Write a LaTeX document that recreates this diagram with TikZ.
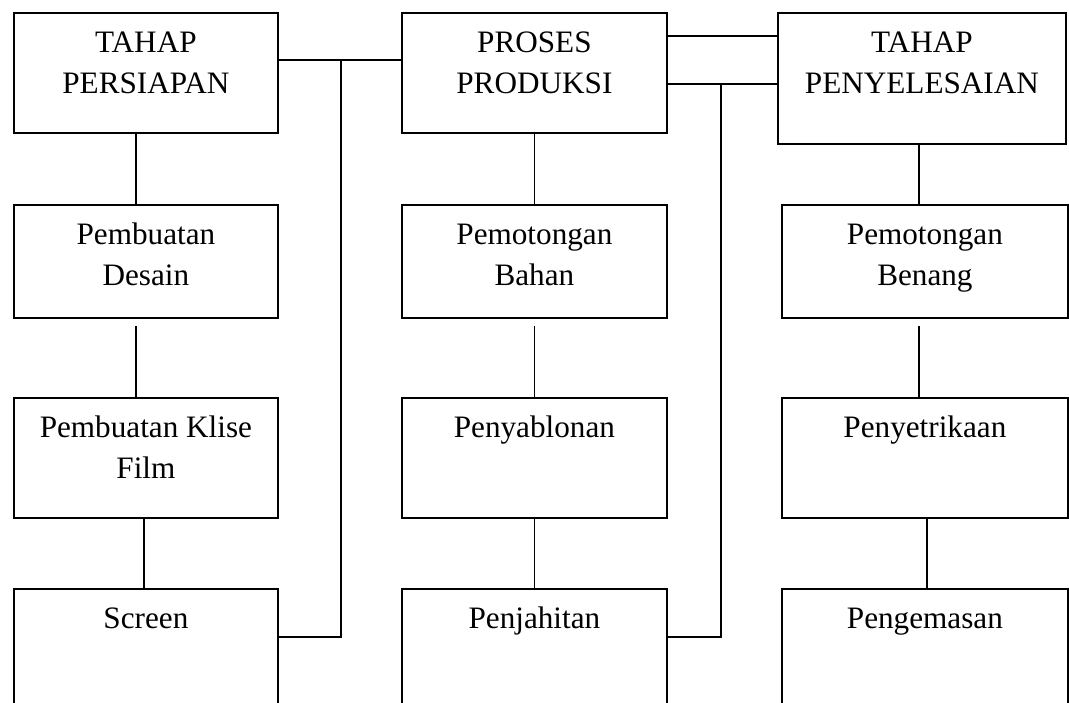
\documentclass[tikz,border=0pt]{standalone}
\usepackage{fontspec}
\setmainfont{Liberation Serif}
\newcommand{\isi}[3]{\parbox[c][#2][t]{#1}{\centering\vspace*{5.6pt}\strut #3\par}}
\tikzset{
  tahap/.style={draw, line width=0.9pt, inner sep=0pt, anchor=north west, font=\fontsize{15.6}{20.5}\selectfont},
  garis/.style={line width=0.9pt}
}
\begin{document}
\begin{tikzpicture}[x=0.5pt, y=-0.5pt]
	\useasboundingbox (0,0) rectangle (1069,702);
	\clip (0,0) rectangle (1069,702);

	\node[tahap] (persiapan) at (13,12) {\isi{132pt}{60pt}{TAHAP\\PERSIAPAN}};
	\node[tahap] (desain) at (13,204) {\isi{132pt}{56.5pt}{Pembuatan\\Desain}};
	\node[tahap] (klise) at (13,397) {\isi{132pt}{60pt}{Pembuatan Klise\\Film}};
	\node[tahap] (screen) at (13,588) {\isi{132pt}{65pt}{Screen}};

	\node[tahap] (proses) at (401,12) {\isi{132.5pt}{60pt}{PROSES\\PRODUKSI}};
	\node[tahap] (bahan) at (401,204) {\isi{132.5pt}{56.5pt}{Pemotongan\\Bahan}};
	\node[tahap] (sablon) at (401,397) {\isi{132.5pt}{60pt}{Penyablonan}};
	\node[tahap] (jahit) at (401,588) {\isi{132.5pt}{65pt}{Penjahitan}};

	\node[tahap] (selesai) at (777,12) {\isi{144pt}{65.5pt}{TAHAP\\PENYELESAIAN}};
	\node[tahap] (benang) at (781,204) {\isi{143pt}{56.5pt}{Pemotongan\\Benang}};
	\node[tahap] (setrika) at (781,397) {\isi{143pt}{60pt}{Penyetrikaan}};
	\node[tahap] (kemas) at (781,588) {\isi{143pt}{65pt}{Pengemasan}};

	\coordinate (s1) at (341,60);
	\coordinate (s2) at (341,637);
	\coordinate (p1) at (721,36);
	\coordinate (p2) at (721,84);
	\coordinate (p3) at (721,637);

	\draw[garis] ([xshift=-5pt]persiapan.south) -- ([xshift=-5pt]persiapan.south |- desain.north);
	\draw[garis] ([xshift=-5pt,yshift=-3.5pt]desain.south) -- ([xshift=-5pt]desain.south |- klise.north);
	\draw[garis] ([xshift=-1pt]klise.south) -- ([xshift=-1pt]klise.south |- screen.north);

	\draw[garis] (proses.south) -- (proses.south |- bahan.north);
	\draw[garis] ([yshift=-3.5pt]bahan.south) -- (sablon.north);
	\draw[garis] (sablon.south) -- (jahit.north);

	\draw[garis] ([xshift=-1.5pt]selesai.south) -- ([xshift=-1.5pt]selesai.south |- benang.north);
	\draw[garis] ([xshift=-3pt,yshift=-3.5pt]benang.south) -- ([xshift=-3pt]benang.south |- setrika.north);
	\draw[garis] ([xshift=1pt]setrika.south) -- ([xshift=1pt]setrika.south |- kemas.north);

	\draw[garis] (persiapan.east |- s1) -- (proses.west |- s1);
	\draw[garis] (s1) -- (s2) -- (screen.east |- s2);
	\draw[garis] (proses.east |- p1) -- (selesai.west |- p1);
	\draw[garis] (proses.east |- p2) -- (selesai.west |- p2);
	\draw[garis] (p2) -- (p3) -- (jahit.east |- p3);
\end{tikzpicture}
\end{document}
